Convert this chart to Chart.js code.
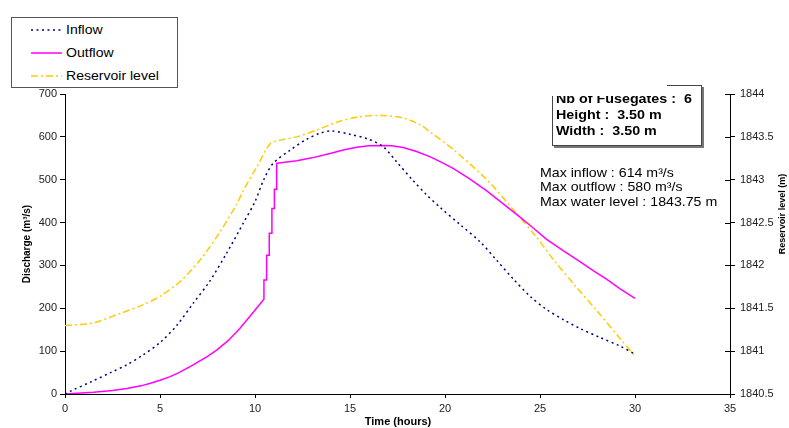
<!DOCTYPE html>
<html>
<head>
<meta charset="utf-8">
<script src="https://cdn.jsdelivr.net/npm/chart.js@4.4.1/dist/chart.umd.min.js"></script>
<style>
  body { margin: 0; background: #fff; font-family: Arial, "Liberation Sans", sans-serif; }
  #wrap { position: relative; width: 789px; height: 428px; overflow: hidden; }
  #chart { position: absolute; left: 0; top: 0; }
  #legend { position: absolute; left: 11px; top: 17px; width: 165px; height: 69px; border: 1px solid #555; background: #fff; }
  #legend .item { position: absolute; left: 0; height: 16px; width: 165px; }
  #legend svg { position: absolute; left: 19px; top: 6px; }
  #legend span { position: absolute; left: 54px; top: 0; font-size: 13px; line-height: 16px; color: #000; transform: scaleX(1.08); transform-origin: left center; white-space: nowrap; }
  #gates { position: absolute; left: 552px; top: 85px; width: 148px; height: 59px; border: 1px solid #444; box-shadow: 2px 2px 0 #777; background: #fff; }
  #gatesText { position: absolute; left: 556px; top: 91px; font-size: 13px; font-weight: bold; line-height: 16px; color: #000; transform: scaleX(1.1); transform-origin: left top; white-space: pre; }
  #cover { position: absolute; left: 548px; top: 76px; width: 119px; height: 20px; background: #fff; }
  #maxText { position: absolute; left: 540px; top: 166px; font-size: 13px; line-height: 14.3px; color: #000; transform: scaleX(1.09); transform-origin: left top; white-space: pre; }
</style>
</head>
<body>
<div id="wrap">
  <canvas id="chart" width="789" height="428"></canvas>
  <div id="legend">
    <div class="item" style="top:4px"><svg width="31" height="4"><line x1="0" y1="2" x2="31" y2="2" stroke="#000080" stroke-width="1.5" stroke-dasharray="2,3.5"/></svg><span>Inflow</span></div>
    <div class="item" style="top:27px"><svg width="31" height="4"><line x1="0" y1="2" x2="31" y2="2" stroke="#ff00ff" stroke-width="1.5"/></svg><span>Outflow</span></div>
    <div class="item" style="top:50px"><svg width="31" height="4"><line x1="0" y1="2" x2="31" y2="2" stroke="#ffcc00" stroke-width="1.5" stroke-dasharray="7,3,2,3"/></svg><span>Reservoir level</span></div>
  </div>
  <div id="gates"></div>
  <div id="gatesText">Nb of Fusegates :  6
Height :  3.50 m
Width :  3.50 m</div>
  <div id="cover"></div>
  <div id="maxText">Max inflow : 614 m³/s
Max outflow : 580 m³/s
Max water level : 1843.75 m</div>
</div>
<script>
// hours
const timeInflow = [0, 0.35, 1.4, 2.4, 3.25, 4.1, 5, 5.9, 6.75, 7.6,
    8.5, 9.4, 10, 10.45, 10.95, 11.85, 12.7, 13.4, 14, 15,
    16, 16.75, 17.45, 18.3, 19, 19.75, 20.8, 21.85, 22.7, 23.6,
    24.5, 25.35, 26.25, 27.1, 28.15, 29.2, 30];
// m3/s
const inflow = [0, 8, 29, 50, 68, 91, 120, 161, 212, 262,
    328, 400, 449, 499, 538, 569, 594, 608, 614, 606,
    594, 577, 542, 499, 466, 435, 395, 355, 313, 268,
    227, 197, 173, 153, 132, 112, 93];

// the six fusegates tip one after another around 10.5 - 11.1 h
const timeOutflow = [0, 1.5, 2.5, 3.25, 4, 4.5, 5, 5.5, 6, 6.75,
    7.5, 8, 8.6, 9.2, 9.8, 10.47, 10.47, 10.61, 10.61, 10.75,
    10.75, 10.89, 10.89, 11.02, 11.02, 11.14, 11.14, 11.26, 12.2, 13,
    13.95, 14.7, 15.35, 16, 16.6, 17.2, 17.8, 18.5, 19.2, 19.8,
    20.45, 21.3, 22.2, 23, 23.8, 24.6, 25.35, 26.2, 27.1, 27.8,
    28.5, 29.2, 30];
const outflow = [0, 4, 8, 13, 19, 25, 32, 40, 50, 68,
    88, 103, 125, 153, 185, 221, 266, 266, 324, 324,
    375, 375, 433, 433, 478, 478, 538, 539, 544, 551,
    561, 570, 576, 579, 580, 579, 575, 566, 554, 541,
    526, 502, 474, 446, 418, 389, 361, 335, 309, 288,
    268, 246, 223];

const timeLevel = [0, 1.5, 2.9, 4.1, 5, 6.05, 7.1, 8.15, 9.05, 9.4,
    10.1, 10.8, 11.3, 12.2, 13.25, 14.3, 15.35, 16.6, 17.8, 18.7,
    19.2, 20.45, 22.2, 23.6, 24.85, 25.7, 26.9, 28, 29.2, 30];
// m
const level = [1841.30, 1841.33, 1841.44, 1841.54, 1841.64, 1841.81, 1842.06, 1842.39, 1842.72, 1842.88,
    1843.15, 1843.42, 1843.46, 1843.50, 1843.58, 1843.67, 1843.73, 1843.75, 1843.72, 1843.64,
    1843.56, 1843.35, 1843.00, 1842.65, 1842.32, 1842.07, 1841.75, 1841.47, 1841.15, 1840.94];

const timeRange = [0, 35];
const dischargeRange = [0, 700];
const levelRange = [1840.5, 1844];

const FONT = 'Arial, "Liberation Sans", sans-serif';

function toPoints(xs, ys) {
    const pts = [];
    for (let i = 0; i < xs.length; i++) {
        pts.push({ x: xs[i], y: ys[i] });
    }
    return pts;
}

// axis titles + the inner half of the right axis ticks
const extras = {
    id: 'extras',
    afterDraw(chart) {
        const ctx = chart.ctx;
        const area = chart.chartArea;
        const y2 = chart.scales.y2;

        ctx.save();
        ctx.strokeStyle = '#000';
        ctx.lineWidth = 1;
        y2.ticks.forEach(t => {
            const py = Math.round(y2.getPixelForValue(t.value)) + 0.5;
            ctx.beginPath();
            ctx.moveTo(area.right - 5, py);
            ctx.lineTo(area.right, py);
            ctx.stroke();
        });

        ctx.fillStyle = '#000';
        ctx.textAlign = 'center';
        ctx.textBaseline = 'middle';

        ctx.font = 'bold 11px ' + FONT;
        ctx.fillText('Time (hours)', 398, 422);

        ctx.save();
        ctx.translate(27, 244);
        ctx.rotate(-Math.PI / 2);
        ctx.font = 'bold 10px ' + FONT;
        ctx.fillText('Discharge (m³/s)', 0, 0);
        ctx.restore();

        ctx.save();
        ctx.translate(783, 214);
        ctx.rotate(-Math.PI / 2);
        ctx.font = 'bold 9px ' + FONT;
        ctx.fillText('Reservoir level (m)', 0, 0);
        ctx.restore();

        ctx.restore();
    }
};

const tickFont = { family: FONT, size: 11 };

new Chart(document.getElementById('chart'), {
    type: 'scatter',
    data: {
        datasets: [
            {
                label: 'Inflow',
                data: toPoints(timeInflow, inflow),
                showLine: true,
                borderColor: '#000080',
                borderWidth: 1.5,
                borderDash: [2, 3.5],
                pointRadius: 0,
                tension: 0.3,
                yAxisID: 'y'
            },
            {
                label: 'Outflow',
                data: toPoints(timeOutflow, outflow),
                showLine: true,
                borderColor: '#ff00ff',
                borderWidth: 1.5,
                pointRadius: 0,
                tension: 0,
                yAxisID: 'y'
            },
            {
                label: 'Reservoir level',
                data: toPoints(timeLevel, level),
                showLine: true,
                borderColor: '#ffcc00',
                borderWidth: 1.5,
                borderDash: [7, 3, 2, 3],
                pointRadius: 0,
                tension: 0.3,
                yAxisID: 'y2'
            }
        ]
    },
    options: {
        responsive: false,
        animation: false,
        layout: { padding: { top: 94 } },
        plugins: {
            legend: { display: false },
            tooltip: { enabled: false }
        },
        scales: {
            x: {
                type: 'linear',
                min: timeRange[0],
                max: timeRange[1],
                ticks: { stepSize: 5, color: '#222', font: tickFont, padding: 4 },
                grid: { drawOnChartArea: false, tickLength: 4, color: '#000' },
                border: { color: '#000', width: 1 },
                afterFit: s => { s.height = 34; }
            },
            y: {
                position: 'left',
                min: dischargeRange[0],
                max: dischargeRange[1],
                ticks: { stepSize: 100, color: '#222', font: tickFont, padding: 3 },
                grid: { drawOnChartArea: false, tickLength: 5, color: '#000' },
                border: { color: '#000', width: 1 },
                afterFit: s => { s.width = 65; }
            },
            y2: {
                position: 'right',
                min: levelRange[0],
                max: levelRange[1],
                ticks: { stepSize: 0.5, color: '#222', font: tickFont, padding: 5, callback: v => String(v) },
                grid: { drawOnChartArea: false, tickLength: 5, color: '#000' },
                border: { color: '#000', width: 1 },
                afterFit: s => { s.width = 59; }
            }
        }
    },
    plugins: [extras]
});
</script>
</body>
</html>
